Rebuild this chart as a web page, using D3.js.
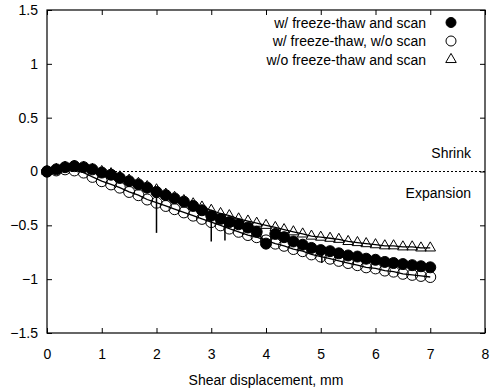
<!DOCTYPE html>
<html>
<head>
<meta charset="utf-8">
<script src="https://cdn.jsdelivr.net/npm/d3@7"></script>
<style>
  body { margin: 0; background: #fff; }
  text { font-family: "Liberation Sans", Arial, sans-serif; font-size: 14px; fill: #000; }
</style>
</head>
<body>
<svg id="chart" width="494" height="389"></svg>
<script>
// shear displacement (mm) shared by all three runs
const displacement = [0, 0.17, 0.33, 0.5, 0.67, 0.83, 1, 1.17, 1.33, 1.5, 1.67, 1.83, 2, 2.17, 2.33, 2.5,
  2.67, 2.83, 3, 3.17, 3.33, 3.5, 3.67, 3.83, 4, 4.17, 4.33, 4.5, 4.67, 4.83, 5, 5.17, 5.33, 5.5,
  5.67, 5.83, 6, 6.17, 6.33, 6.5, 6.67, 6.83, 7];

// vertical displacement, mm
const withFtScan = [0, 0.02, 0.04, 0.05, 0.04, 0.02, -0.01, -0.03, -0.06, -0.09, -0.12, -0.15, -0.19,
  -0.22, -0.25, -0.28, -0.32, -0.36, -0.41, -0.44, -0.47, -0.49, -0.52, -0.56, -0.67, -0.58, -0.61,
  -0.65, -0.68, -0.71, -0.73, -0.74, -0.76, -0.78, -0.79, -0.81, -0.82, -0.84, -0.85, -0.86, -0.87,
  -0.88, -0.89];
const withFtNoScan = [0, 0.01, 0.02, 0.01, -0.01, -0.05, -0.09, -0.12, -0.15, -0.19, -0.22, -0.26, -0.29,
  -0.32, -0.35, -0.38, -0.41, -0.44, -0.47, -0.5, -0.53, -0.56, -0.59, -0.61, -0.64, -0.67, -0.69,
  -0.72, -0.74, -0.77, -0.79, -0.81, -0.83, -0.85, -0.87, -0.89, -0.9, -0.92, -0.93, -0.95, -0.96,
  -0.97, -0.98];
const noFtNoScan = [0, 0.02, 0.04, 0.05, 0.04, 0.02, 0, -0.02, -0.05, -0.08, -0.11, -0.14, -0.17,
  -0.21, -0.24, -0.27, -0.3, -0.33, -0.36, -0.39, -0.41, -0.44, -0.46, -0.48, -0.5, -0.52, -0.54,
  -0.56, -0.58, -0.6, -0.61, -0.62, -0.63, -0.65, -0.66, -0.67, -0.68, -0.69, -0.69, -0.7, -0.7,
  -0.71, -0.71];

// glitches in the recorded trace of the first run
const spikeX = [2, 3, 3.25, 5.02];
const spikeBottom = [-0.57, -0.65, -0.64, -0.85];

const legendLabels = ['w/ freeze-thaw and scan', 'w/ freeze-thaw, w/o scan', 'w/o freeze-thaw and scan'];
const xTicks = [0, 1, 2, 3, 4, 5, 6, 7, 8];
const yTicks = [-1.5, -1, -0.5, 0, 0.5, 1, 1.5];

const svg = d3.select('#chart');
const plotL = 47, plotR = 485, plotT = 10, plotB = 333;

const x = d3.scaleLinear().domain([0, 8]).range([plotL, plotR]);
const y = d3.scaleLinear().domain([-1.5, 1.5]).range([plotB, plotT]);

const pts = (ys) => displacement.map((d, i) => ({ x: d, y: ys[i] }));
const series = [
  { name: legendLabels[0], data: pts(withFtScan), mark: 'filled' },
  { name: legendLabels[1], data: pts(withFtNoScan), mark: 'open' },
  { name: legendLabels[2], data: pts(noFtNoScan), mark: 'tri' },
];

// zero line
svg.append('line')
  .attr('x1', x(0)).attr('x2', x(8))
  .attr('y1', y(0)).attr('y2', y(0))
  .attr('stroke', '#000').attr('stroke-width', 1)
  .attr('stroke-dasharray', '2,2');

svg.append('text').attr('x', 471).attr('y', y(0) - 14).attr('text-anchor', 'end').text('Shrink');
svg.append('text').attr('x', 471).attr('y', y(0) + 26).attr('text-anchor', 'end').text('Expansion');

// axes (ticks point inwards, mirrored on top and right)
const tk = 5;
svg.append('g').attr('transform', `translate(0,${plotB})`)
  .call(d3.axisBottom(x).tickValues(xTicks).tickSize(-tk).tickPadding(16).tickFormat(d3.format('d')));
svg.append('g').attr('transform', `translate(0,${plotT})`)
  .call(d3.axisTop(x).tickValues(xTicks).tickSize(-tk).tickFormat(''));
svg.append('g').attr('transform', `translate(${plotL},0)`)
  .call(d3.axisLeft(y).tickValues(yTicks).tickSize(-tk).tickPadding(9).tickFormat(d3.format('')));
svg.append('g').attr('transform', `translate(${plotR},0)`)
  .call(d3.axisRight(y).tickValues(yTicks).tickSize(-tk).tickFormat(''));
svg.selectAll('.domain').remove();
svg.selectAll('.tick line').attr('stroke', '#000');
svg.selectAll('.tick text').style('font-size', '14px').attr('fill', '#000');

svg.append('rect')
  .attr('x', plotL).attr('y', plotT)
  .attr('width', plotR - plotL).attr('height', plotB - plotT)
  .attr('fill', 'none').attr('stroke', '#000').attr('stroke-width', 1.2);

svg.append('text')
  .attr('x', (plotL + plotR) / 2).attr('y', 385)
  .attr('text-anchor', 'middle')
  .text('Shear displacement, mm');

// traces
const line = d3.line().x(d => x(d.x)).y(d => y(d.y));
svg.append('g').selectAll('path')
  .data(series)
  .join('path')
  .attr('d', d => line(d.data))
  .attr('fill', 'none')
  .attr('stroke', '#000')
  .attr('stroke-width', 1.3);

svg.append('g').selectAll('line')
  .data(spikeX.map((d, i) => ({ x: d, y: spikeBottom[i] })))
  .join('line')
  .attr('x1', d => x(d.x)).attr('x2', d => x(d.x))
  .attr('y1', d => y(d3.least(series[0].data, p => Math.abs(p.x - d.x)).y))
  .attr('y2', d => y(d.y))
  .attr('stroke', '#000').attr('stroke-width', 1.5);

// markers
const tri = d3.symbol().type(d3.symbolTriangle).size(48);
function drawMarks(g, mark, r) {
  if (mark === 'tri') {
    g.append('path').attr('d', tri).attr('fill', 'none').attr('stroke', '#000').attr('stroke-width', 1);
  } else {
    g.append('circle').attr('r', r)
      .attr('fill', mark === 'filled' ? '#000' : 'none')
      .attr('stroke', '#000').attr('stroke-width', 1);
  }
}

['tri', 'open', 'filled'].forEach(mark => {
  const s = series.find(d => d.mark === mark);
  svg.append('g').selectAll('g')
    .data(s.data)
    .join('g')
    .attr('transform', d => `translate(${x(d.x)},${y(d.y)})`)
    .each(function () { drawMarks(d3.select(this), mark, 5.5); });
});

// legend
const legend = svg.append('g');
series.forEach((s, i) => {
  const ly = 22.5 + i * 18.5;
  legend.append('text').attr('x', 426).attr('y', ly + 5).attr('text-anchor', 'end').text(s.name);
  const g = legend.append('g').attr('transform', `translate(451,${ly})`);
  drawMarks(g, s.mark, 5);
});
</script>
</body>
</html>
